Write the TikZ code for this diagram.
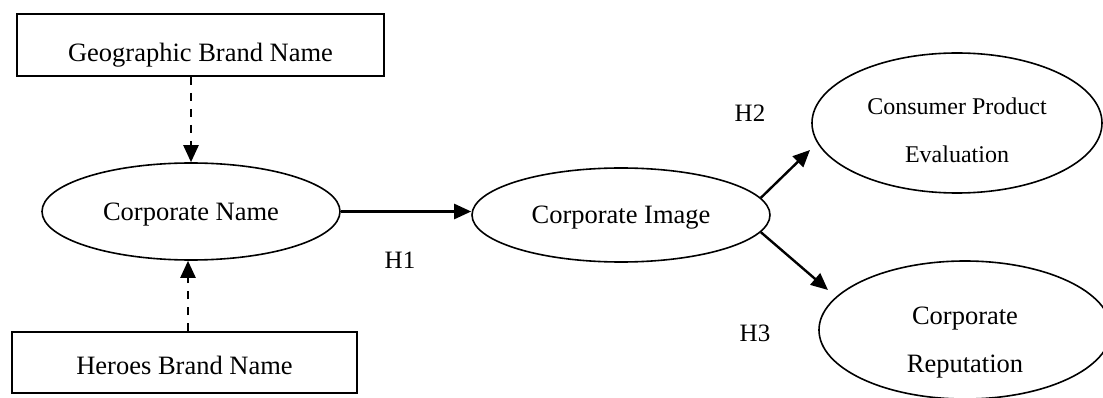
\documentclass[tikz,border=0pt]{standalone}
\usepackage{fontspec}
\setmainfont{Liberation Serif}
\usetikzlibrary{arrows.meta,shapes.geometric}
\begin{document}
\begin{tikzpicture}[x=1pt,y=-1pt,
  boxnode/.style={draw,line width=2pt,rectangle,inner sep=0pt,font=\fontsize{26.5}{32}\selectfont,text depth=0pt},
  ellnode/.style={draw,line width=1.6pt,ellipse,inner sep=0pt},
  arr/.style={line width=2.4pt,-{Triangle[length=17pt,width=15pt]}},
  dasharr/.style={arr,dash pattern=on 8pt off 8pt},
  hlabel/.style={font=\fontsize{25}{30}\selectfont,inner sep=0pt}]
\useasboundingbox (0,0) rectangle (1103,398);
\node[boxnode,minimum width=367pt,minimum height=62pt,text height=33.5pt] (geo) at (200.5,45) {Geographic Brand Name};
\node[boxnode,minimum width=345pt,minimum height=61pt,text height=24.5pt] (heroes) at (184.5,362.5) {Heroes Brand Name};
\node[ellnode,minimum width=298pt,minimum height=97pt,font=\fontsize{26.5}{32}\selectfont,text height=17.5pt,text depth=0pt] (cname) at (191,211.5) {Corporate Name};
\node[ellnode,minimum width=298pt,minimum height=94pt,font=\fontsize{26.5}{32}\selectfont,text height=17.5pt,text depth=0pt] (ci) at (621,215) {Corporate Image};
\node[ellnode,minimum width=290pt,minimum height=140pt,font=\fontsize{24}{48}\selectfont,align=center,text height=80pt,text depth=0pt] (cpe) at (957,123) {Consumer Product\\Evaluation};
\node[ellnode,minimum width=292pt,minimum height=138pt,font=\fontsize{26.5}{48}\selectfont,align=center,text height=84pt,text depth=0pt] (rep) at (965,330) {Corporate\\Reputation};
\node[hlabel] (h1) at (400,260) {H1};
\node[hlabel] (h2) at (750,113) {H2};
\node[hlabel] (h3) at (755,333) {H3};
\coordinate (h2tip) at (810,150);
\coordinate (h3tip) at (828,290);
\draw[arr] (cname.east) -- (cname.east -| ci.west);
\draw[dasharr] (geo.south -| cname.north) -- (cname.north);
\draw[dasharr] ([xshift=-3pt]cname.south |- heroes.north) -- ([xshift=-3pt]cname.south);
\draw[arr] (ci.7) -- (h2tip);
\draw[arr] (ci.-7) -- (h3tip);
\end{tikzpicture}
\end{document}
